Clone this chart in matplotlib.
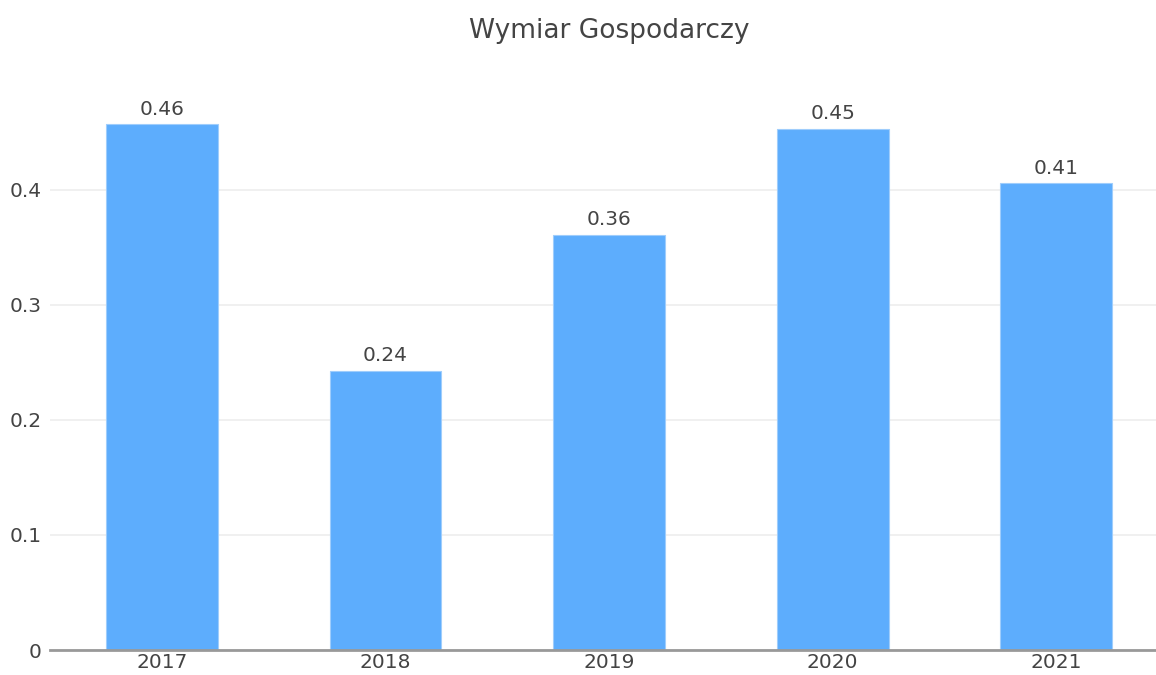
import matplotlib
matplotlib.use('Agg')
import matplotlib.pyplot as plt

# data
years = ['2017', '2018', '2019', '2020', '2021']
values = [0.457, 0.243, 0.361, 0.453, 0.406]
labels = ['0.46', '0.24', '0.36', '0.45', '0.41']
y_ticks = [0, 0.1, 0.2, 0.3, 0.4]

plt.rcParams['font.family'] = ['DejaVu Sans']

fig = plt.figure(figsize=(11.56, 6.75), dpi=100)
ax = fig.add_axes([50 / 1156, 25 / 675, 1 - 50 / 1156, 555 / 675])

x = list(range(len(years)))
bars = ax.bar(x, values, width=0.5, color='#5dadfd', edgecolor='#9fcdfc',
              linewidth=0.8, zorder=3)

for xi, v, lab in zip(x, values, labels):
    ax.annotate(lab, (xi, v), xytext=(0, 4), textcoords='offset points',
                ha='center', va='bottom', fontsize=14.5, color='#444444')

ax.set_xlim(-0.5, 4.446)
ax.set_ylim(0, 0.4826)
ax.set_xticks(x)
ax.set_xticklabels(years)
ax.set_yticks(y_ticks)
ax.set_yticklabels(['0', '0.1', '0.2', '0.3', '0.4'])

ax.grid(axis='y', color='#eeeeee', linewidth=1.2, zorder=0)
for s in ['top', 'right', 'left']:
    ax.spines[s].set_visible(False)
ax.spines['bottom'].set_color('#999999')
ax.spines['bottom'].set_linewidth(2)
ax.spines['bottom'].set_zorder(4)
ax.tick_params(axis='both', length=0, labelsize=14.5, colors='#444444')
ax.tick_params(axis='x', pad=2)
ax.tick_params(axis='y', pad=6)

fig.text(0.527, 1 - 31 / 675, 'Wymiar Gospodarczy', ha='center', va='center',
         fontsize=19, color='#444444')

plt.savefig('out.png', dpi=100)
